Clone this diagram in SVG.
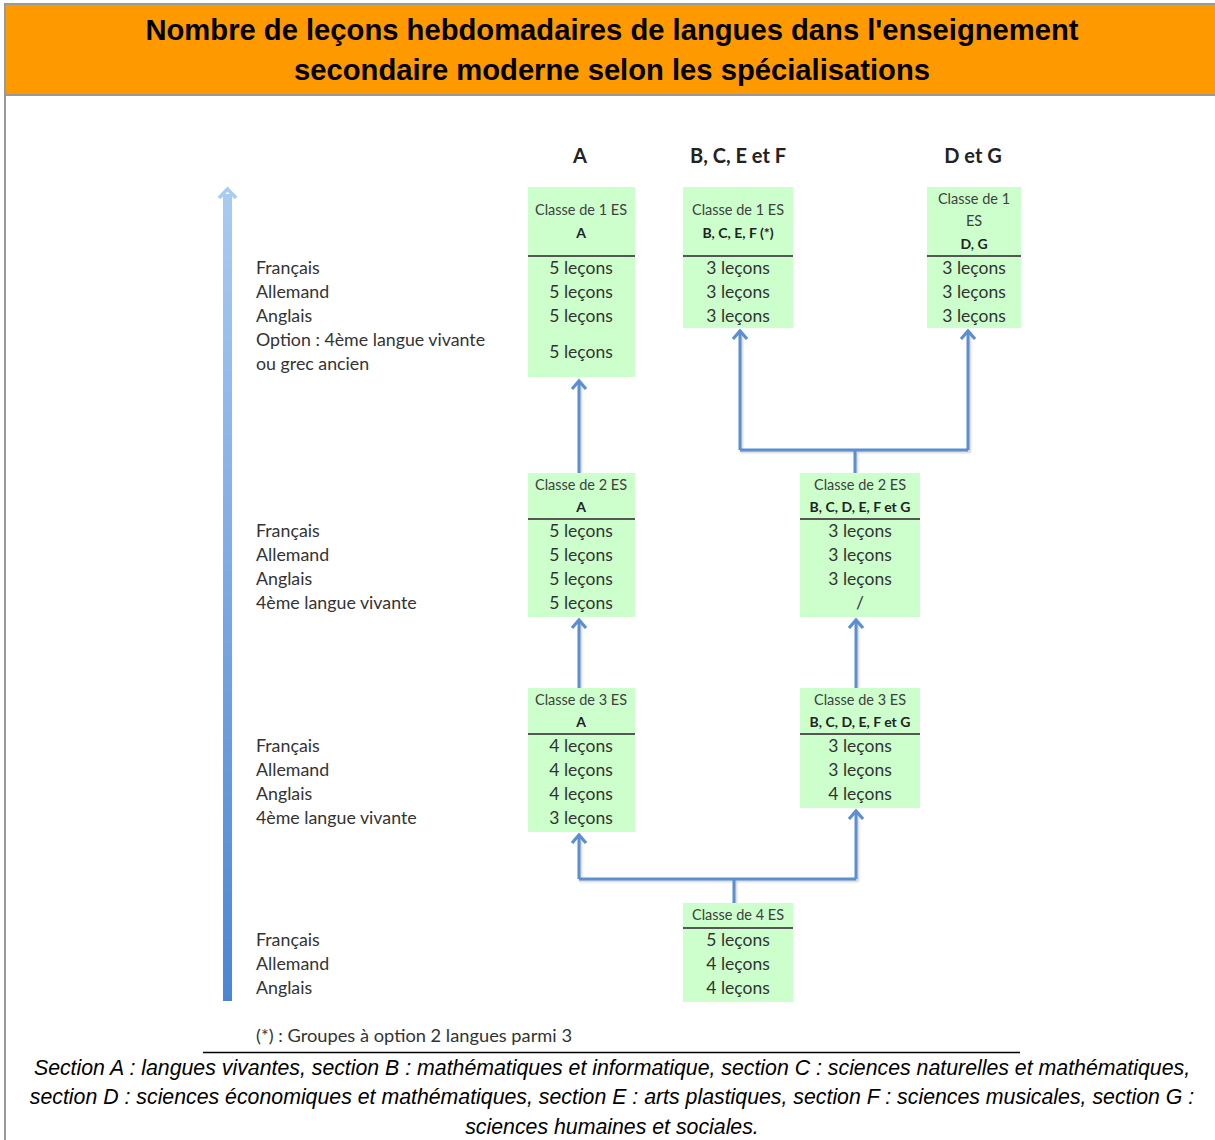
<svg xmlns="http://www.w3.org/2000/svg" width="1215" height="1140" viewBox="0 0 1215 1140">
  <style>
    .title { font-family: "Liberation Sans", Arial, sans-serif; font-weight: bold; font-size: 29.2px; fill: #000; text-anchor: middle; }
    .col { font-family: Lato, "Open Sans", sans-serif; font-weight: bold; font-size: 20px; fill: #222; text-anchor: middle; }
    .lbl { font-family: Lato, "Open Sans", sans-serif; font-size: 17.8px; fill: #333; }
    .box { fill: #ccffcc; }
    .hd { font-family: Lato, "Open Sans", sans-serif; font-size: 14.5px; fill: #404040; text-anchor: middle; }
    .hdb { font-family: Lato, "Open Sans", sans-serif; font-size: 14px; font-weight: bold; fill: #222; text-anchor: middle; }
    .val { font-family: Lato, "Open Sans", sans-serif; font-size: 17.5px; fill: #333; text-anchor: middle; }
    .sep { stroke: #555; stroke-width: 2; }
    .link { fill: none; stroke: #5b8fd0; stroke-width: 3; stroke-linejoin: round; }
    .shadow { fill: none; stroke: #000; stroke-opacity: 0.18; stroke-width: 3; }
    .note { font-family: Lato, "Open Sans", sans-serif; font-size: 17px; fill: #333; }
    .cap { font-family: "Liberation Sans", Arial, sans-serif; font-style: italic; font-size: 21.3px; fill: #000; text-anchor: middle; }
  </style>
  <defs>
    <marker id="head" viewBox="0 0 16 16" refX="11" refY="8" markerWidth="16" markerHeight="16" markerUnits="userSpaceOnUse" orient="auto">
      <path d="M3,1 L11,8 L3,15" fill="none" stroke="#5b8fd0" stroke-width="3.2" stroke-linejoin="miter"/>
    </marker>
    <linearGradient id="axis" x1="0" y1="0" x2="0" y2="1">
      <stop offset="0" stop-color="#a9cbf2"/>
      <stop offset="1" stop-color="#4a86d4"/>
    </linearGradient>
    <filter id="soft" x="-20%" y="-20%" width="140%" height="140%">
      <feGaussianBlur stdDeviation="1"/>
    </filter>
  </defs>

  <!-- frame and title band -->
  <rect x="0" y="0" width="1215" height="1140" fill="#fff"/>
  <rect x="5" y="4" width="1215" height="1140" fill="none" stroke="#999" stroke-width="2"/>
  <rect x="6" y="5" width="1209" height="89" fill="#ff9900"/>
  <line x1="6" y1="95" x2="1215" y2="95" stroke="#999" stroke-width="2"/>
  <text class="title" x="612" y="40">Nombre de leçons hebdomadaires de langues dans l'enseignement</text>
  <text class="title" x="612" y="80">secondaire moderne selon les spécialisations</text>

  <!-- vertical progression axis -->
  <g id="axis-arrow">
    <rect x="223" y="194" width="9" height="807" fill="url(#axis)"/>
    <path d="M219,198 L227.5,189 L236,198" fill="none" stroke="#a9cbf2" stroke-width="3.5"/>
  </g>

  <!-- column headings -->
  <g id="headings">
    <text class="col" x="580" y="163">A</text>
    <text class="col" x="738" y="163">B, C, E et F</text>
    <text class="col" x="973" y="163">D et G</text>
  </g>

  <!-- subject labels -->
  <g id="labels-1es">
    <text class="lbl" x="256" y="274">Français</text>
    <text class="lbl" x="256" y="298">Allemand</text>
    <text class="lbl" x="256" y="322">Anglais</text>
    <text class="lbl" x="256" y="346">Option : 4ème langue vivante</text>
    <text class="lbl" x="256" y="370">ou grec ancien</text>
  </g>
  <g id="labels-2es">
    <text class="lbl" x="256" y="537">Français</text>
    <text class="lbl" x="256" y="561">Allemand</text>
    <text class="lbl" x="256" y="585">Anglais</text>
    <text class="lbl" x="256" y="609">4ème langue vivante</text>
  </g>
  <g id="labels-3es">
    <text class="lbl" x="256" y="752">Français</text>
    <text class="lbl" x="256" y="776">Allemand</text>
    <text class="lbl" x="256" y="800">Anglais</text>
    <text class="lbl" x="256" y="824">4ème langue vivante</text>
  </g>
  <g id="labels-4es">
    <text class="lbl" x="256" y="946">Français</text>
    <text class="lbl" x="256" y="970">Allemand</text>
    <text class="lbl" x="256" y="994">Anglais</text>
  </g>

  <!-- connectors -->
  <g id="connectors">
    <g filter="url(#soft)" transform="translate(1.5,1.5)">
      <path class="shadow" d="M579,473 V380"/>
      <path class="shadow" d="M579,688 V620"/>
      <path class="shadow" d="M856,688 V620"/>
      <path class="shadow" d="M855,473 V450 M740,331 V450 H968 V331"/>
      <path class="shadow" d="M734,903 V879 M579,835 V879 H856 V811"/>
    </g>
    <path class="link" d="M579,473 V381" marker-end="url(#head)"/>
    <path class="link" d="M579,688 V620" marker-end="url(#head)"/>
    <path class="link" d="M856,688 V620" marker-end="url(#head)"/>
    <path class="link" d="M855,473 V450"/>
    <path class="link" d="M740,450 H968"/>
    <path class="link" d="M740,450 V331" marker-end="url(#head)"/>
    <path class="link" d="M968,450 V331" marker-end="url(#head)"/>
    <path class="link" d="M734,903 V879"/>
    <path class="link" d="M579,879 H856"/>
    <path class="link" d="M579,879 V835" marker-end="url(#head)"/>
    <path class="link" d="M856,879 V811" marker-end="url(#head)"/>
  </g>

  <!-- classe de 1 ES, section A -->
  <g id="c1-a">
    <rect class="box" x="528" y="187" width="107" height="190"/>
    <text class="hd" x="581" y="215">Classe de 1 ES</text>
    <text class="hdb" x="581" y="238">A</text>
    <line class="sep" x1="528" y1="256" x2="635" y2="256"/>
    <text class="val" x="581" y="274">5 leçons</text>
    <text class="val" x="581" y="298">5 leçons</text>
    <text class="val" x="581" y="322">5 leçons</text>
    <text class="val" x="581" y="358">5 leçons</text>
  </g>

  <!-- classe de 1 ES, sections B, C, E, F -->
  <g id="c1-bcef">
    <rect class="box" x="683" y="187" width="110" height="141"/>
    <text class="hd" x="738" y="215">Classe de 1 ES</text>
    <text class="hdb" x="738" y="238">B, C, E, F (*)</text>
    <line class="sep" x1="683" y1="256" x2="793" y2="256"/>
    <text class="val" x="738" y="274">3 leçons</text>
    <text class="val" x="738" y="298">3 leçons</text>
    <text class="val" x="738" y="322">3 leçons</text>
  </g>

  <!-- classe de 1 ES, sections D, G -->
  <g id="c1-dg">
    <rect class="box" x="927" y="187" width="94" height="141"/>
    <text class="hd" x="974" y="204">Classe de 1</text>
    <text class="hd" x="974" y="226">ES</text>
    <text class="hdb" x="974" y="249">D, G</text>
    <line class="sep" x1="927" y1="256" x2="1021" y2="256"/>
    <text class="val" x="974" y="274">3 leçons</text>
    <text class="val" x="974" y="298">3 leçons</text>
    <text class="val" x="974" y="322">3 leçons</text>
  </g>

  <!-- classe de 2 ES, section A -->
  <g id="c2-a">
    <rect class="box" x="528" y="473" width="107" height="144"/>
    <text class="hd" x="581" y="490">Classe de 2 ES</text>
    <text class="hdb" x="581" y="512">A</text>
    <line class="sep" x1="528" y1="519" x2="635" y2="519"/>
    <text class="val" x="581" y="537">5 leçons</text>
    <text class="val" x="581" y="561">5 leçons</text>
    <text class="val" x="581" y="585">5 leçons</text>
    <text class="val" x="581" y="609">5 leçons</text>
  </g>

  <!-- classe de 2 ES, sections B à G -->
  <g id="c2-bg">
    <rect class="box" x="800" y="473" width="120" height="144"/>
    <text class="hd" x="860" y="490">Classe de 2 ES</text>
    <text class="hdb" x="860" y="512">B, C, D, E, F et G</text>
    <line class="sep" x1="800" y1="519" x2="920" y2="519"/>
    <text class="val" x="860" y="537">3 leçons</text>
    <text class="val" x="860" y="561">3 leçons</text>
    <text class="val" x="860" y="585">3 leçons</text>
    <text class="val" x="860" y="609">/</text>
  </g>

  <!-- classe de 3 ES, section A -->
  <g id="c3-a">
    <rect class="box" x="528" y="688" width="107" height="144"/>
    <text class="hd" x="581" y="705">Classe de 3 ES</text>
    <text class="hdb" x="581" y="727">A</text>
    <line class="sep" x1="528" y1="734" x2="635" y2="734"/>
    <text class="val" x="581" y="752">4 leçons</text>
    <text class="val" x="581" y="776">4 leçons</text>
    <text class="val" x="581" y="800">4 leçons</text>
    <text class="val" x="581" y="824">3 leçons</text>
  </g>

  <!-- classe de 3 ES, sections B à G -->
  <g id="c3-bg">
    <rect class="box" x="800" y="688" width="120" height="120"/>
    <text class="hd" x="860" y="705">Classe de 3 ES</text>
    <text class="hdb" x="860" y="727">B, C, D, E, F et G</text>
    <line class="sep" x1="800" y1="734" x2="920" y2="734"/>
    <text class="val" x="860" y="752">3 leçons</text>
    <text class="val" x="860" y="776">3 leçons</text>
    <text class="val" x="860" y="800">4 leçons</text>
  </g>

  <!-- classe de 4 ES -->
  <g id="c4">
    <rect class="box" x="683" y="903" width="110" height="99"/>
    <text class="hd" x="738" y="920">Classe de 4 ES</text>
    <line class="sep" x1="683" y1="928" x2="793" y2="928"/>
    <text class="val" x="738" y="946">5 leçons</text>
    <text class="val" x="738" y="970">4 leçons</text>
    <text class="val" x="738" y="994">4 leçons</text>
  </g>

  <!-- footnote and caption -->
  <text class="note" x="256" y="1042" textLength="316" lengthAdjust="spacingAndGlyphs">(*) : Groupes à option 2 langues parmi 3</text>
  <line x1="203" y1="1052.5" x2="1020" y2="1052.5" stroke="#000" stroke-width="1.5"/>
  <text class="cap" x="612" y="1075">Section A : langues vivantes, section B : mathématiques et informatique, section C : sciences naturelles et mathématiques,</text>
  <text class="cap" x="612" y="1104">section D : sciences économiques et mathématiques, section E : arts plastiques, section F : sciences musicales, section G :</text>
  <text class="cap" x="612" y="1134">sciences humaines et sociales.</text>
</svg>
